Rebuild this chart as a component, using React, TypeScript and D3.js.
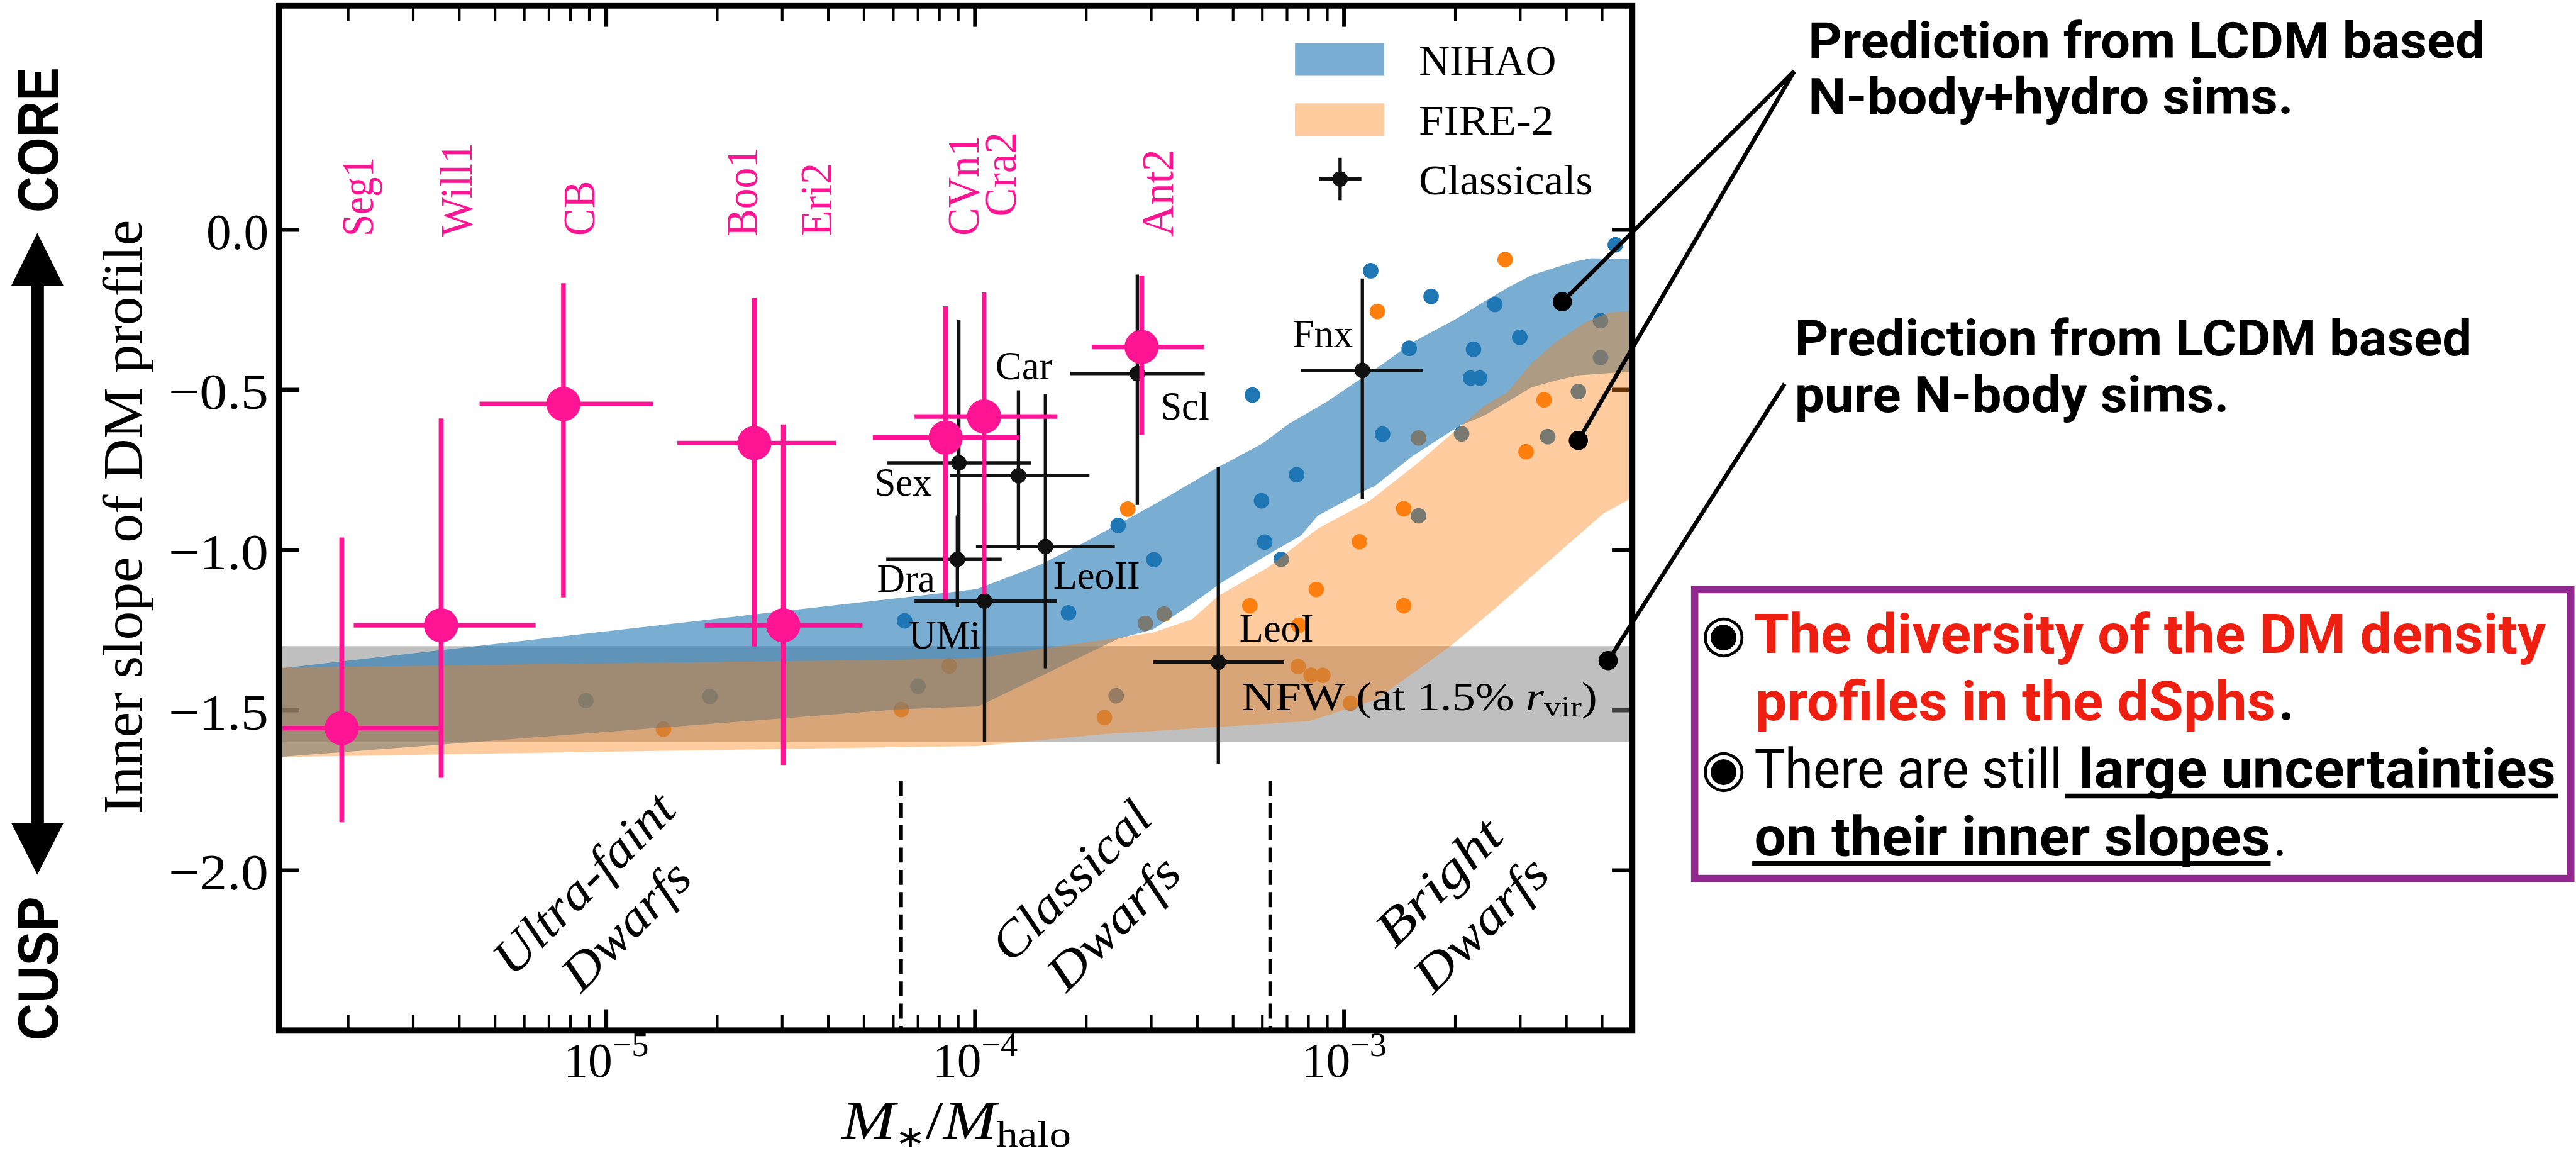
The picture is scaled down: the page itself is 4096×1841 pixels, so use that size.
import React from 'react';
import * as d3 from 'd3';

// ---------------- data ----------------
const xDomain: [number, number] = [1.3e-6, 6.03e-3];
const yDomain: [number, number] = [-2.5, 0.7];
const yTicks = [0, -0.5, -1, -1.5, -2];
const yTickLabels = ['0.0', '−0.5', '−1.0', '−1.5', '−2.0'];
const xMajorTicks = [1e-5, 1e-4, 1e-3];
const xMajorExps = ['−5', '−4', '−3'];

// NIHAO band (upper / lower edges)
const nihaoUpper: [number, number][] = [
  [1.3e-6, -1.37], [5.55e-5, -1.156], [1.01e-4, -1.122], [1.5e-4, -1.046], [2.0e-4, -0.973],
  [3.03e-4, -0.86], [4.56e-4, -0.741], [5.97e-4, -0.669], [7.08e-4, -0.606], [8.97e-4, -0.537],
  [1.28e-3, -0.417], [1.53e-3, -0.351], [2.0e-3, -0.28], [2.39e-3, -0.225], [2.82e-3, -0.176],
  [3.22e-3, -0.142], [4.21e-3, -0.099], [4.68e-3, -0.089], [6.03e-3, -0.092],
];
const nihaoLower: [number, number][] = [
  [1.3e-6, -1.646], [6.31e-5, -1.497], [1.02e-4, -1.488], [2.44e-4, -1.277], [3.03e-4, -1.248],
  [3.87e-4, -1.168], [4.67e-4, -1.1], [6.28e-4, -1.011], [7.65e-4, -0.954], [8.47e-4, -0.893],
  [1.11e-3, -0.82], [1.21e-3, -0.8], [1.53e-3, -0.707], [2.06e-3, -0.611], [2.39e-3, -0.581],
  [2.77e-3, -0.537], [3.22e-3, -0.492], [3.74e-3, -0.471], [4.34e-3, -0.454], [6.03e-3, -0.443],
];
// FIRE-2 band
const fireUpper: [number, number][] = [
  [1.3e-6, -1.367], [6.31e-5, -1.342], [1.02e-4, -1.337], [2.46e-4, -1.273], [3.03e-4, -1.258],
  [3.87e-4, -1.216], [4.56e-4, -1.143], [6.22e-4, -1.054], [8.49e-4, -0.933], [1.17e-3, -0.847],
  [1.58e-3, -0.729], [1.94e-3, -0.64], [2.39e-3, -0.551], [2.77e-3, -0.507], [3.22e-3, -0.417],
  [3.74e-3, -0.351], [4.47e-3, -0.291], [5.19e-3, -0.259], [6.03e-3, -0.253],
];
const fireLower: [number, number][] = [
  [1.3e-6, -1.646], [6.31e-5, -1.615], [1.02e-4, -1.612], [2.22e-4, -1.575], [8.02e-4, -1.534],
  [1.22e-3, -1.467], [1.94e-3, -1.3], [2.64e-3, -1.17], [3.37e-3, -1.062], [4.2e-3, -0.965],
  [5.04e-3, -0.886], [6.03e-3, -0.837],
];
// NFW grey band
const nfwBand: [number, number] = [-1.6, -1.3];

// simulated haloes
const nihaoPoints: [number, number][] = [
  [1.18e-3, -0.128], [1.72e-3, -0.208], [5.43e-3, -0.047], [2.56e-3, -0.233], [1.5e-3, -0.37],
  [2.24e-3, -0.373], [2.99e-3, -0.336], [4.95e-3, -0.284], [4.95e-3, -0.399], [2.2e-3, -0.463],
  [2.33e-3, -0.463], [4.31e-3, -0.505], [1.27e-3, -0.638], [2.08e-3, -0.637], [3.56e-3, -0.646],
  [7.43e-4, -0.765], [1.59e-3, -0.893], [6.75e-4, -1.029], [5.64e-4, -0.516], [5.97e-4, -0.846],
  [6.09e-4, -0.975], [2.44e-4, -0.923], [3.05e-4, -1.03], [1.79e-4, -1.196], [6.44e-5, -1.221],
  [7.0e-5, -1.425], [2.41e-4, -1.455], [8.81e-6, -1.47], [1.91e-5, -1.457],
];
const firePoints: [number, number][] = [
  [1.23e-3, -0.255], [2.73e-3, -0.093], [3.48e-3, -0.531], [1.59e-3, -0.65], [3.11e-3, -0.693],
  [1.45e-3, -0.871], [1.1e-3, -0.974], [2.59e-4, -0.872], [3.25e-4, -1.2], [2.89e-4, -1.229],
  [5.55e-4, -1.174], [8.4e-4, -1.123], [7.53e-4, -1.235], [1.45e-3, -1.174], [8.51e-5, -1.362],
  [6.31e-5, -1.498], [2.24e-4, -1.523], [7.5e-4, -1.364], [8.13e-4, -1.391], [8.75e-4, -1.391],
  [1.04e-3, -1.478], [1.43e-5, -1.559],
];

// ultra-faint dwarfs (pink)
const ufdNames = ['Seg1', 'Will1', 'CB', 'Boo1', 'Eri2', 'CVn1', 'Cra2', 'Ant2'];
const ufdX = [1.92e-6, 3.57e-6, 7.66e-6, 2.52e-5, 3.02e-5, 8.32e-5, 1.057e-4, 2.825e-4];
const ufdXLo = [1.05e-6, 2.07e-6, 4.54e-6, 1.56e-5, 1.85e-5, 5.28e-5, 6.85e-5, 2.07e-4];
const ufdXHi = [3.52e-6, 6.44e-6, 1.34e-5, 4.2e-5, 4.95e-5, 1.318e-4, 1.667e-4, 4.17e-4];
const ufdY = [-1.556, -1.235, -0.544, -0.666, -1.235, -0.649, -0.583, -0.366];
const ufdYHi = [-0.961, -0.589, -0.167, -0.213, -0.608, -0.239, -0.196, -0.143];
const ufdYLo = [-1.85, -1.711, -1.148, -1.301, -1.671, -1.154, -1.138, -0.64];
const ufdLabelX = [2.33e-6, 4.32e-6, 9.29e-6, 2.57e-5, 4.08e-5, 1.02e-4, 1.29e-4, 3.44e-4];
const ufdLabelY = [-0.021, -0.021, -0.019, -0.021, -0.021, -0.019, 0.041, -0.021];
const ufdLabelLen = [153, 181, 106, 172, 142, 194, 163, 168];

// classical dwarfs (black)
const clsNames = ['Scl', 'Car', 'Sex', 'Dra', 'LeoII', 'UMi', 'LeoI', 'Fnx'];
const clsX = [2.75e-4, 1.31e-4, 9.03e-5, 8.95e-5, 1.55e-4, 1.06e-4, 4.56e-4, 1.12e-3];
const clsXLo = [1.81e-4, 8.53e-5, 5.77e-5, 5.74e-5, 1.005e-4, 6.85e-5, 3.03e-4, 7.64e-4];
const clsXHi = [4.19e-4, 2.04e-4, 1.42e-4, 1.18e-4, 2.39e-4, 1.667e-4, 6.87e-4, 1.63e-3];
const clsY = [-0.449, -0.768, -0.728, -1.029, -0.989, -1.159, -1.35, -0.439];
const clsYHi = [-0.14, -0.501, -0.281, -0.892, -0.513, -0.85, -0.742, -0.152];
const clsYLo = [-0.859, -0.999, -1.05, -1.178, -1.369, -1.599, -1.667, -0.841];
const clsLabelX = [3.18e-4, 1.135e-4, 5.34e-5, 5.42e-5, 1.63e-4, 6.61e-5, 5.2e-4, 7.24e-4];
const clsLabelY = [-0.592, -0.466, -0.831, -1.131, -1.121, -1.308, -1.285, -0.366];
const clsLabelLen = [94, 110, 110, 112, 167, 138, 143, 117];

// dwarf classes
const classBounds = [6.3e-5, 6.3e-4];
const classBoundTop = -1.72;
const regionLines = [['Ultra-faint', 'Dwarfs'], ['Classical', 'Dwarfs'], ['Bright', 'Dwarfs']];
const regionX = [9.89e-6, 2.07e-4, 2.05e-3];
const regionY = [-2.105, -2.097, -2.101];
const regionLens = [[452, 308], [392, 320], [303, 324]];

// annotation anchor points (data coords)
const annotDots: [number, number][] = [[3.9e-3, -0.225], [4.31e-3, -0.658], [5.19e-3, -1.345]];

// ---------------- layout ----------------
const W = 4969, H = 2233;
const PL = 538.5, PR = 3148.4, PT = 10.5, PB = 1987.3;
const SERIF = "'Liberation Serif', 'DejaVu Serif', serif";
const COND = "'Liberation Sans Narrow', 'Roboto', 'Liberation Sans', sans-serif";
const PINK = '#ff1493';
const TBLUE = '#1f77b4';
const TORANGE = '#ff7f0e';

export default function App() {
  const x = d3.scaleLog().domain(xDomain).range([PL, PR]);
  const y = d3.scaleLinear().domain(yDomain).range([PB, PT]);
  const line = d3.line<[number, number]>().x((d) => x(d[0])).y((d) => y(d[1]));
  const band = (up: [number, number][], lo: [number, number][]) =>
    (line([...up, ...lo.slice().reverse()]) || '') + 'Z';

  const allTicks = x.ticks();
  const minorTicks = allTicks.filter((t) => Math.abs(Math.log10(t) - Math.round(Math.log10(t))) > 1e-6);

  const annotEnds: [number, number][] = [[3461, 137], [3461, 137], [3442.6, 740]];

  return (
    <svg
      width={4096}
      height={1841}
      viewBox={`0 0 ${W} ${H}`}
      style={{ position: 'absolute', left: 0, top: 0, display: 'block', background: '#fff' }}
    >
      <rect x={0} y={0} width={W} height={H} fill="#fff" />
      <defs>
        <clipPath id="plotClip">
          <rect x={PL} y={PT} width={PR - PL} height={PB - PT} />
        </clipPath>
      </defs>

      {/* ticks (beneath bands) */}
      <g stroke="#000">
        {yTicks.map((t, i) => (
          <g key={'yt' + i}>
            <line x1={PL} x2={PL + 39} y1={y(t)} y2={y(t)} strokeWidth={8} />
            <line x1={PR} x2={PR - 39} y1={y(t)} y2={y(t)} strokeWidth={8} />
          </g>
        ))}
        {xMajorTicks.map((t, i) => (
          <g key={'xt' + i}>
            <line x1={x(t)} x2={x(t)} y1={PB} y2={PB - 41} strokeWidth={8} />
            <line x1={x(t)} x2={x(t)} y1={PT} y2={PT + 41} strokeWidth={8} />
          </g>
        ))}
        {minorTicks.map((t, i) => (
          <g key={'xm' + i}>
            <line x1={x(t)} x2={x(t)} y1={PB} y2={PB - 30} strokeWidth={5} />
            <line x1={x(t)} x2={x(t)} y1={PT} y2={PT + 30} strokeWidth={5} />
          </g>
        ))}
      </g>

      <g clipPath="url(#plotClip)">
        {/* simulation points (under bands) */}
        {nihaoPoints.map((d, i) => (
          <circle key={'nb' + i} cx={x(d[0])} cy={y(d[1])} r={15} fill={TBLUE} />
        ))}
        {firePoints.map((d, i) => (
          <circle key={'fo' + i} cx={x(d[0])} cy={y(d[1])} r={15} fill={TORANGE} />
        ))}

        {/* NFW band */}
        <rect x={PL} width={PR - PL} y={y(nfwBand[1])} height={y(nfwBand[0]) - y(nfwBand[1])} fill="#808080" fillOpacity={0.5} />
        {/* NIHAO band */}
        <path d={band(nihaoUpper, nihaoLower)} fill={TBLUE} fillOpacity={0.6} />
        {/* FIRE-2 band */}
        <path d={band(fireUpper, fireLower)} fill={TORANGE} fillOpacity={0.4} />

        {/* class boundaries */}
        {classBounds.map((b, i) => (
          <line key={'cb' + i} x1={x(b)} x2={x(b)} y1={y(classBoundTop)} y2={PB} stroke="#000" strokeWidth={7} strokeDasharray="29 14" />
        ))}

        {/* classical dwarfs */}
        {clsNames.map((n, i) => (
          <g key={'cls' + i} stroke="#111" strokeWidth={6.5}>
            <line x1={x(clsXLo[i])} x2={x(clsXHi[i])} y1={y(clsY[i])} y2={y(clsY[i])} />
            <line x1={x(clsX[i])} x2={x(clsX[i])} y1={y(clsYHi[i])} y2={y(clsYLo[i])} />
            <circle cx={x(clsX[i])} cy={y(clsY[i])} r={15} fill="#111" stroke="none" />
          </g>
        ))}

        {/* ultra-faint dwarfs */}
        {ufdNames.map((n, i) => (
          <g key={'ufd' + i} stroke={PINK} strokeWidth={9}>
            <line x1={x(ufdXLo[i])} x2={x(ufdXHi[i])} y1={y(ufdY[i])} y2={y(ufdY[i])} />
            <line x1={x(ufdX[i])} x2={x(ufdX[i])} y1={y(ufdYHi[i])} y2={y(ufdYLo[i])} />
            <circle cx={x(ufdX[i])} cy={y(ufdY[i])} r={33} fill={PINK} stroke="none" />
          </g>
        ))}
      </g>

      {/* pink labels */}
      {ufdNames.map((n, i) => (
        <text
          key={'ul' + i}
          transform={`translate(${x(ufdLabelX[i])},${y(ufdLabelY[i])}) rotate(-90)`}
          fontFamily={SERIF}
          fontSize={88}
          fill={PINK}
          textLength={ufdLabelLen[i]}
          lengthAdjust="spacingAndGlyphs"
        >
          {n}
        </text>
      ))}

      {/* classical labels */}
      {clsNames.map((n, i) => (
        <text
          key={'cl' + i}
          x={x(clsLabelX[i])}
          y={y(clsLabelY[i])}
          fontFamily={SERIF}
          fontSize={78}
          fill="#000"
          textLength={clsLabelLen[i]}
          lengthAdjust="spacingAndGlyphs"
        >
          {n}
        </text>
      ))}

      {/* NFW label */}
      <text x={x(5.27e-4)} y={y(-1.5)} fontFamily={SERIF} fontSize={77} fill="#000" textLength={686} lengthAdjust="spacingAndGlyphs">
        NFW (at 1.5%{' '}
        <tspan fontStyle="italic">r</tspan>
        <tspan fontSize={56} dy={12}>vir</tspan>
        <tspan dy={-12}>)</tspan>
      </text>

      {/* region labels */}
      {regionLines.map((ls, i) => (
        <g key={'rg' + i} transform={`translate(${x(regionX[i])},${y(regionY[i])}) rotate(-45)`}>
          {ls.map((s, j) => (
            <text
              key={j}
              x={0}
              y={j === 0 ? -57 : 58}
              textAnchor="middle"
              dominantBaseline="central"
              fontFamily={SERIF}
              fontStyle="italic"
              fontSize={97}
              fill="#000"
              textLength={regionLens[i][j]}
              lengthAdjust="spacingAndGlyphs"
            >
              {s}
            </text>
          ))}
        </g>
      ))}

      {/* spines */}
      <rect x={PL} y={PT} width={PR - PL} height={PB - PT} fill="none" stroke="#000" strokeWidth={12} />

      {/* tick labels */}
      {yTicks.map((t, i) => (
        <text
          key={'ytl' + i}
          x={518}
          y={y(t) + 37}
          textAnchor="end"
          fontFamily={SERIF}
          fontSize={98}
          textLength={yTickLabels[i].length > 3 ? 193 : 120}
          lengthAdjust="spacingAndGlyphs"
        >
          {yTickLabels[i]}
        </text>
      ))}
      {xMajorTicks.map((t, i) => (
        <text key={'xtl' + i} x={x(t)} y={2077} textAnchor="middle" fontFamily={SERIF} fontSize={94}>
          10
          <tspan fontSize={66} dy={-40}>
            {xMajorExps[i]}
          </tspan>
        </text>
      ))}

      {/* axis labels */}
      <text
        transform={`translate(273,997) rotate(-90)`}
        textAnchor="middle"
        fontFamily={SERIF}
        fontSize={108}
        textLength={1146}
        lengthAdjust="spacingAndGlyphs"
      >
        Inner slope of DM profile
      </text>
      <text x={1624} y={2196} fontFamily={SERIF} fontSize={106} textLength={442} lengthAdjust="spacingAndGlyphs">
        <tspan fontStyle="italic">M</tspan>
        <tspan fontSize={60} dy={16} fontFamily="'DejaVu Sans', sans-serif">∗</tspan>
        <tspan dy={-16}>/</tspan>
        <tspan fontStyle="italic">M</tspan>
        <tspan fontSize={72} dy={15}>halo</tspan>
      </text>

      {/* legend */}
      <rect x={2498} y={83} width={172} height={63} fill={TBLUE} fillOpacity={0.6} />
      <rect x={2498} y={199} width={172} height={63} fill={TORANGE} fillOpacity={0.4} />
      <g stroke="#111" strokeWidth={6.5}>
        <line x1={2544} x2={2626} y1={345} y2={345} />
        <line x1={2585} x2={2585} y1={304} y2={386} />
        <circle cx={2585} cy={345} r={15} fill="#111" stroke="none" />
      </g>
      <text x={2737} y={144} fontFamily={SERIF} fontSize={82} textLength={265} lengthAdjust="spacingAndGlyphs">NIHAO</text>
      <text x={2737} y={260} fontFamily={SERIF} fontSize={82} textLength={260} lengthAdjust="spacingAndGlyphs">FIRE-2</text>
      <text x={2737} y={375} fontFamily={SERIF} fontSize={82} textLength={335} lengthAdjust="spacingAndGlyphs">Classicals</text>

      {/* CORE / CUSP arrow */}
      <rect x={59.7} y={545} width={25} height={1048} fill="#000" />
      <path d="M72,449 L21.7,551 L122.6,551 Z" fill="#000" />
      <path d="M72,1687 L21.7,1587 L122.6,1587 Z" fill="#000" />
      <text transform="translate(111.7,270) rotate(-90)" textAnchor="middle" fontFamily="'Liberation Sans', Arial, sans-serif" fontWeight="bold" fontSize={110} textLength={280} lengthAdjust="spacingAndGlyphs">CORE</text>
      <text transform="translate(111.7,1868) rotate(-90)" textAnchor="middle" fontFamily="'Liberation Sans', Arial, sans-serif" fontWeight="bold" fontSize={110} textLength={278} lengthAdjust="spacingAndGlyphs">CUSP</text>

      {/* annotation pointers */}
      {annotDots.map((d, i) => (
        <g key={'an' + i}>
          <line x1={x(d[0])} y1={y(d[1])} x2={annotEnds[i][0]} y2={annotEnds[i][1]} stroke="#000" strokeWidth={8} />
          <circle cx={x(d[0])} cy={y(d[1])} r={18.5} fill="#000" />
        </g>
      ))}

      {/* annotation texts */}
      <g fontFamily={COND} fontWeight="bold" fontSize={96} fill="#000">
        <text x={3488} y={111} textLength={1305} lengthAdjust="spacingAndGlyphs">Prediction from LCDM based</text>
        <text x={3488} y={219} textLength={936} lengthAdjust="spacingAndGlyphs">N-body+hydro sims.</text>
        <text x={3462} y={685} textLength={1306} lengthAdjust="spacingAndGlyphs">Prediction from LCDM based</text>
        <text x={3462} y={795} textLength={838} lengthAdjust="spacingAndGlyphs">pure N-body sims.</text>
      </g>

      {/* summary box */}
      <rect x={3269} y={1137} width={1690} height={557} fill="none" stroke="#92278f" strokeWidth={14} />
      <text x={3325} y={1220} textAnchor="middle" dominantBaseline="central" fontFamily="'DejaVu Sans', sans-serif" fontSize={100}>◉</text>
      <text x={3325} y={1480} textAnchor="middle" dominantBaseline="central" fontFamily="'DejaVu Sans', sans-serif" fontSize={100}>◉</text>
      <g fontFamily={COND} fontSize={106}>
        <text x={3383} y={1259} fill="#ee1f10" fontWeight="bold" textLength={1528} lengthAdjust="spacingAndGlyphs">The diversity of the DM density</text>
        <text x={3386} y={1389} fill="#ee1f10" fontWeight="bold" textLength={1004} lengthAdjust="spacingAndGlyphs">profiles in the dSphs</text>
        <text x={4395} y={1389} fill="#000" fontWeight="bold">.</text>
        <text x={3384} y={1519} fill="#000" textLength={594} lengthAdjust="spacingAndGlyphs">There are still</text>
        <text x={4010} y={1519} fill="#000" fontWeight="bold" textLength={920} lengthAdjust="spacingAndGlyphs">large uncertainties</text>
        <text x={3384} y={1650} fill="#000" fontWeight="bold" textLength={995} lengthAdjust="spacingAndGlyphs">on their inner slopes</text>
        <text x={4384} y={1650} fill="#000">.</text>
      </g>
      <line x1={3984} x2={4934} y1={1535} y2={1535} stroke="#000" strokeWidth={9} />
      <line x1={3380} x2={4380} y1={1665} y2={1665} stroke="#000" strokeWidth={9} />
    </svg>
  );
}
